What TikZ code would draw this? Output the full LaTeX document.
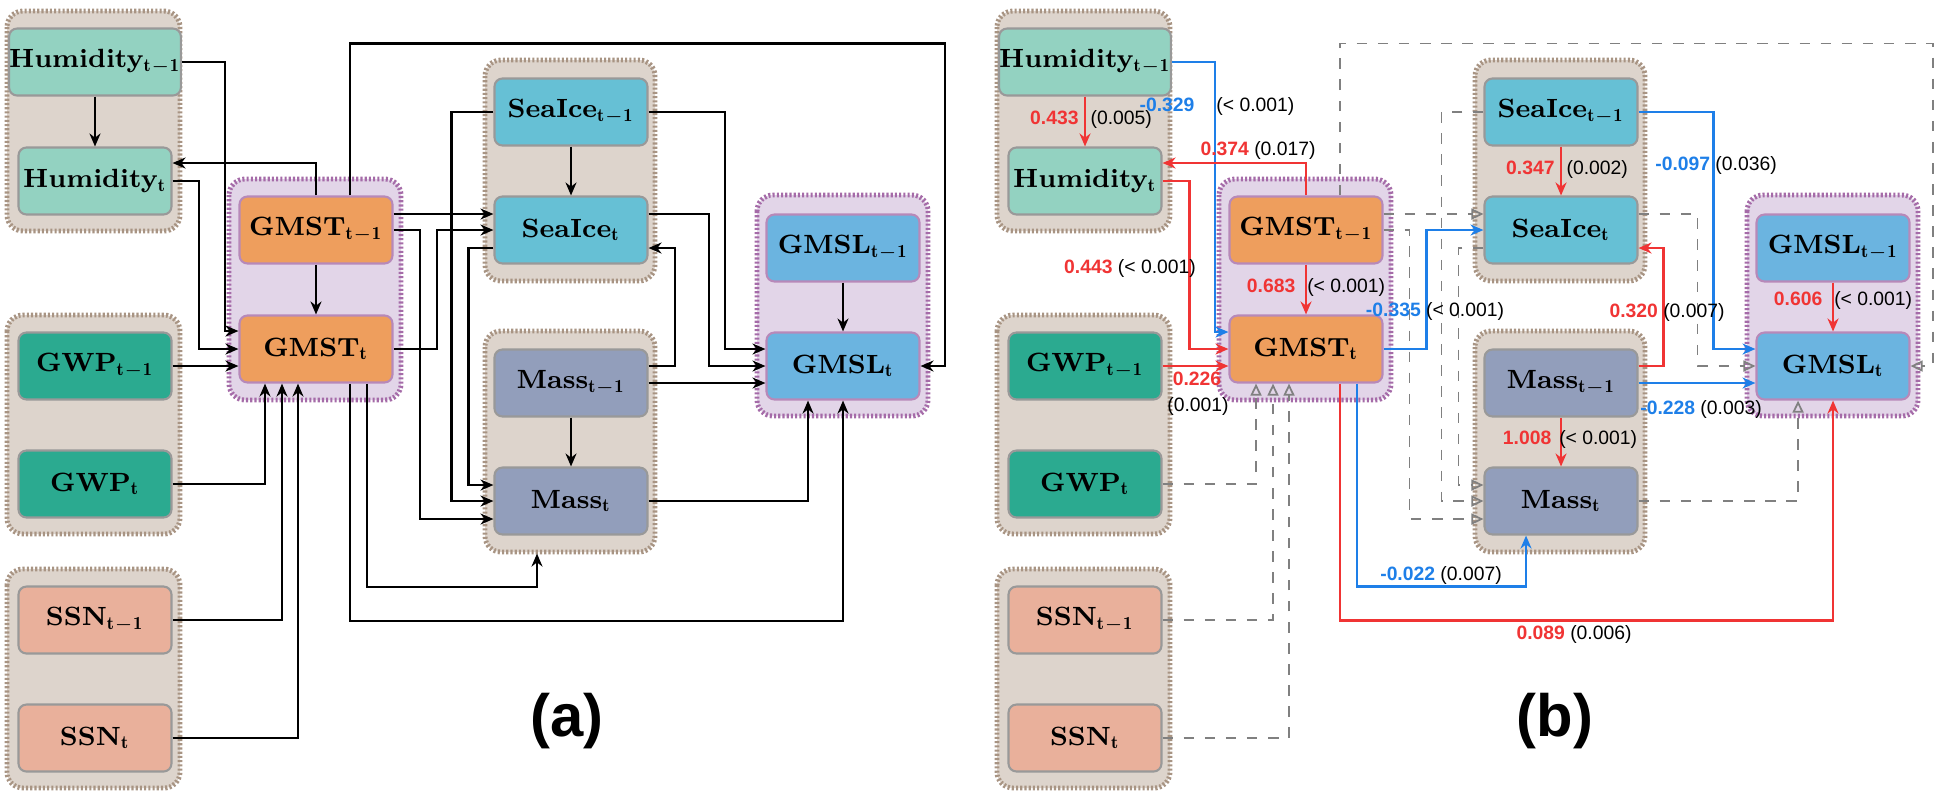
\documentclass[tikz,border=0pt]{standalone}
\usepackage{fontspec}
\newfontfamily\lblfont{Liberation Sans}
\usetikzlibrary{arrows.meta,calc}
\definecolor{humc}{HTML}{93D2C1}
\definecolor{gwpc}{HTML}{2BAA90}
\definecolor{ssnc}{HTML}{E9B09B}
\definecolor{gmstc}{HTML}{EE9E5D}
\definecolor{icec}{HTML}{66C0D5}
\definecolor{massc}{HTML}{929EBB}
\definecolor{gmslc}{HTML}{6BB4E0}
\definecolor{grpfill}{HTML}{DDD4CC}
\definecolor{grpline}{HTML}{A89483}
\definecolor{pgrpfill}{HTML}{E2D5E8}
\definecolor{pgrpline}{HTML}{A56BA8}
\definecolor{posc}{HTML}{F03434}
\definecolor{negc}{HTML}{1E7FE8}
\tikzset{
    box/.style={rounded corners=0.8mm, draw=gray!80, line width=0.6pt, minimum width=15.3mm, minimum height=6.7mm, inner sep=0pt, font=\fontsize{7.5}{9}\selectfont\bfseries},
    pbox/.style={box, draw=pgrpline!80},
    grp/.style={rounded corners=1.6mm, fill=grpfill, draw=grpline, line width=1.4pt, dash pattern=on 0.6pt off 0.6pt},
    pgrp/.style={grp, fill=pgrpfill, draw=pgrpline},
    lnk/.style={line width=0.6pt, -{Stealth[length=1.3mm,width=1.1mm]}},
    poslnk/.style={lnk, draw=posc, line width=0.8pt},
    neglnk/.style={lnk, draw=negc, line width=0.8pt},
    deplnk/.style={line width=0.5pt, draw=gray, dashed, -{Triangle[open,length=1.2mm,width=1.1mm]}},
    coef/.style={font=\lblfont\fontsize{5.5}{6.5}\selectfont, inner sep=0.5pt},
    panellabel/.style={font=\lblfont\fontsize{17}{20}\selectfont\bfseries}
}
\newcommand{\pv}[2]{\textcolor{#1}{\textbf{#2}}}
\begin{document}
\begin{tikzpicture}[x=0.1mm, y=-0.1mm]
    \useasboundingbox (0,0) rectangle (1936,792);
    % both panels share the same nodes
    \foreach \p/\dx in {a/0, b/990}{
        % groups
        \draw[grp] (\dx+7,11) rectangle (\dx+180,231);
        \draw[grp] (\dx+7,315) rectangle (\dx+180,534);
        \draw[grp] (\dx+7,569) rectangle (\dx+180,788);
        \draw[pgrp] (\dx+229,179) rectangle (\dx+401,400);
        \draw[grp] (\dx+485,60) rectangle (\dx+655,281);
        \draw[grp] (\dx+485,331) rectangle (\dx+655,552);
        \draw[pgrp] (\dx+757,195) rectangle (\dx+928,416);
        % variables
        \node[box, fill=humc] (\p h1) at (\dx+95,62) {Humidity$_{\mathbf{t-1}}$};
        \node[box, fill=humc] (\p h2) at (\dx+95,181) {Humidity$_{\mathbf{t}}$};
        \node[box, fill=gwpc] (\p w1) at (\dx+95,366) {GWP$_{\mathbf{t-1}}$};
        \node[box, fill=gwpc] (\p w2) at (\dx+95,484) {GWP$_{\mathbf{t}}$};
        \node[box, fill=ssnc] (\p s1) at (\dx+95,620) {SSN$_{\mathbf{t-1}}$};
        \node[box, fill=ssnc] (\p s2) at (\dx+95,738) {SSN$_{\mathbf{t}}$};
        \node[pbox, fill=gmstc] (\p g1) at (\dx+316,230) {GMST$_{\mathbf{t-1}}$};
        \node[pbox, fill=gmstc] (\p g2) at (\dx+316,349) {GMST$_{\mathbf{t}}$};
        \node[box, fill=icec] (\p i1) at (\dx+571,112) {SeaIce$_{\mathbf{t-1}}$};
        \node[box, fill=icec] (\p i2) at (\dx+571,230) {SeaIce$_{\mathbf{t}}$};
        \node[box, fill=massc] (\p m1) at (\dx+571,383) {Mass$_{\mathbf{t-1}}$};
        \node[box, fill=massc] (\p m2) at (\dx+571,501) {Mass$_{\mathbf{t}}$};
        \node[pbox, fill=gmslc] (\p l1) at (\dx+843,248) {GMSL$_{\mathbf{t-1}}$};
        \node[pbox, fill=gmslc] (\p l2) at (\dx+843,366) {GMSL$_{\mathbf{t}}$};
    }
    \node[panellabel] (capa) at (567,721) {(a)};
    \node[panellabel] (capb) at (1555,721) {(b)};

    % panel (a)
    \draw[lnk] (ah1.east) -- ++(43,0) |- ([yshift=1.8mm]ag2.west);
    \draw[lnk] (ah1) -- (ah2);
    \draw[lnk] (ah2.east) -- ++(26,0) |- (ag2.west);
    \draw[lnk] (ag1.north) |- ([yshift=1.8mm]ah2.east);
    \draw[lnk] ([xshift=3.4mm]ag1.north) |- ++(595,-152) |- (al2.east);
    \draw[lnk] (ag1) -- (ag2);
    \draw[lnk] (aw1.east) -- (aw1 -| ag2.west);
    \draw[lnk] (aw2.east) -| ([xshift=-5.1mm]ag2.south);
    \draw[lnk] (as1.east) -| ([xshift=-3.4mm]ag2.south);
    \draw[lnk] (as2.east) -| ([xshift=-1.8mm]ag2.south);
    \draw[lnk] ([yshift=1.6mm]ag1.east) -- ([yshift=1.6mm]ai2.west);
    \draw[lnk] (ag1.east) -- ++(26,0) |- ([yshift=-1.8mm]am2.west);
    \draw[lnk] (ag2.east) -- ++(43,0) |- (ai2.west);
    \draw[lnk] (ai1.west) -- ++(-42,0) |- (am2.west);
    \draw[lnk] ([yshift=-1.8mm]ai2.west) -- ++(-25,0) |- ([yshift=1.6mm]am2.west);
    \draw[lnk] (ai1) -- (ai2);
    \draw[lnk] (ai1.east) -- ++(76,0) |- ([yshift=1.7mm]al2.west);
    \draw[lnk] ([yshift=1.6mm]ai2.east) -- ++(60,0) |- (al2.west);
    \draw[lnk] ([yshift=1.7mm]am1.east) -- ++(26,0) |- ([yshift=-1.8mm]ai2.east);
    \draw[lnk] (am1.east) -- (am1 -| al2.west);
    \draw[lnk] (am1) -- (am2);
    \draw[lnk] (am2.east) -| ([xshift=-3.5mm]al2.south);
    \draw[lnk] ([xshift=5.1mm]ag2.south) -- ++(0,203) -| ([xshift=-3.4mm,yshift=-1.8mm]am2.south);
    \draw[lnk] ([xshift=3.4mm]ag2.south) -- ++(0,237) -| (al2.south);
    \draw[lnk] (al1) -- (al2);

    % panel (b), dashed links first
    \draw[deplnk] ([xshift=3.4mm]bg1.north) |- ++(593,-152) |- (bl2.east);
    \draw[deplnk] (bw2.east) -| ([xshift=-5.0mm]bg2.south);
    \draw[deplnk] (bs1.east) -| ([xshift=-3.3mm]bg2.south);
    \draw[deplnk] (bs2.east) -| ([xshift=-1.7mm]bg2.south);
    \draw[deplnk] ([yshift=1.6mm]bg1.east) -- ([yshift=1.6mm]bi2.west);
    \draw[deplnk] (bg1.east) -- ++(26,0) |- ([yshift=-1.8mm]bm2.west);
    \draw[deplnk] (bi1.west) -- ++(-42,0) |- (bm2.west);
    \draw[deplnk] ([yshift=-1.8mm]bi2.west) -- ++(-25,0) |- ([yshift=1.6mm]bm2.west);
    \draw[deplnk] ([yshift=1.6mm]bi2.east) -- ++(59,0) |- (bl2.west);
    \draw[deplnk] (bm2.east) -| ([xshift=-3.5mm]bl2.south);
    \draw[neglnk] (bh1.east) -- ++(43,0) |- ([yshift=1.7mm]bg2.west);
    \draw[poslnk] (bh1) -- (bh2);
    \draw[poslnk] (bh2.east) -- ++(27,0) |- (bg2.west);
    \draw[poslnk] (bg1.north) |- ([yshift=1.8mm]bh2.east);
    \draw[poslnk] (bg1) -- (bg2);
    \draw[poslnk] (bw1.east) -- (bw1 -| bg2.west);
    \draw[neglnk] (bg2.east) -- ++(43,0) |- (bi2.west);
    \draw[neglnk] ([xshift=5.1mm]bg2.south) -- ++(0,203) -| ([xshift=-3.5mm]bm2.south);
    \draw[poslnk] ([xshift=3.4mm]bg2.south) -- ++(0,237) -| (bl2.south);
    \draw[poslnk] (bi1) -- (bi2);
    \draw[neglnk] (bi1.east) -- ++(75,0) |- ([yshift=1.7mm]bl2.west);
    \draw[poslnk] ([yshift=1.7mm]bm1.east) -- ++(25,0) |- ([yshift=-1.8mm]bi2.east);
    \draw[neglnk] (bm1.east) -- (bm1 -| bl2.west);
    \draw[poslnk] (bm1) -- (bm2);
    \draw[poslnk] (bl1) -- (bl2);

    % coefficients
    \node[coef] (c1) at (1217,106) {\pv{negc}{-0.329}\hspace{2.2mm}(< 0.001)};
    \node[coef] (c2) at (1091,119) {\pv{posc}{0.433}\hspace{1.2mm}(0.005)};
    \node[coef] (c3) at (1130,268) {\pv{posc}{0.443} (< 0.001)};
    \node[coef] (c4) at (1258,150) {\pv{posc}{0.374} (0.017)};
    \node[coef] (c5) at (1316,287) {\pv{posc}{0.683}\hspace{1.2mm}(< 0.001)};
    \node[coef] (c6) at (1197,379) {\pv{posc}{0.226}};
    \node[coef] (c7) at (1198,406) {(0.001)};
    \node[coef] (c8) at (1435,311) {\pv{negc}{-0.335} (< 0.001)};
    \node[coef] (c9) at (1441,575) {\pv{negc}{-0.022} (0.007)};
    \node[coef] (c10) at (1574,634) {\pv{posc}{0.089} (0.006)};
    \node[coef] (c11) at (1567,169) {\pv{posc}{0.347}\hspace{1.2mm}(0.002)};
    \node[coef] (c12) at (1716,165) {\pv{negc}{-0.097} (0.036)};
    \node[coef] (c13) at (1667,312) {\pv{posc}{0.320} (0.007)};
    \node[coef] (c14) at (1701,409) {\pv{negc}{-0.228} (0.003)};
    \node[coef] (c15) at (1570,439) {\pv{posc}{1.008}\hspace{0.8mm}(< 0.001)};
    \node[coef] (c16) at (1843,300) {\pv{posc}{0.606}\hspace{1.2mm}(< 0.001)};
\end{tikzpicture}
\end{document}
